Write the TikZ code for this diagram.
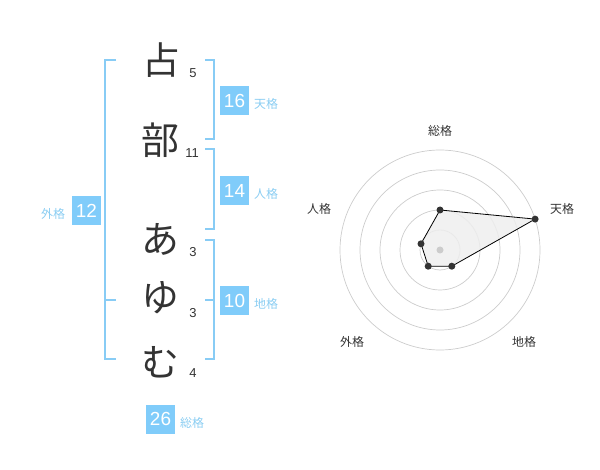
\documentclass[tikz,border=0pt]{standalone}
\usepackage{fontspec}
\setmainfont{Noto Sans CJK JP}
\newfontfamily\numfont{Liberation Sans}
\definecolor{kblue}{HTML}{88CCF5}
\definecolor{kbox}{HTML}{80CCFA}
\definecolor{klabel}{HTML}{8ACDF2}
\definecolor{kdark}{HTML}{333333}
\definecolor{kgrid}{HTML}{CCCCCC}
\definecolor{kfill}{HTML}{EEEEEE}
\begin{document}
\begin{tikzpicture}[x=1bp,y=-1bp,
  kanji/.style={inner sep=0pt,text=kdark,font=\fontsize{38}{38}\selectfont},
  strokes/.style={inner sep=0pt,text=kdark,font=\numfont\fontsize{13}{13}\selectfont},
  bracket/.style={draw=kblue,line width=2bp},
  numbox/.style={fill=kbox,text=white,minimum width=29bp,minimum height=29bp,inner sep=0pt,font=\numfont\fontsize{19}{19}\selectfont},
  boxlabel/.style={inner sep=0pt,text=klabel,font=\fontsize{12}{12}\selectfont},
  axislabel/.style={inner sep=0pt,text=kdark,font=\fontsize{12}{12}\selectfont},
  ring/.style={draw=kgrid,line width=0.7bp},
  dot/.style={circle,fill=kdark,inner sep=0pt,minimum size=7bp}]
\useasboundingbox (0,0) rectangle (600,470);
% characters
\node[kanji] (c1) at (161,60) {占};
\node[kanji] (c2) at (160,140) {部};
\node[kanji] (c3) at (160,239) {あ};
\node[kanji] (c4) at (160,298) {ゆ};
\node[kanji] (c5) at (160,362) {む};
\node[strokes] (s1) at (193,73) {5};
\node[strokes] (s2) at (192,153) {11};
\node[strokes] (s3) at (193,252) {3};
\node[strokes] (s4) at (193,313) {3};
\node[strokes] (s5) at (193,373) {4};
% brackets
\draw[bracket] (116,60) -- (105,60) -- (105,359) -- (116,359);
\draw[bracket] (105,300) -- (116,300);
\draw[bracket] (205,60) -- (214,60) -- (214,139) -- (205,139);
\draw[bracket] (205,149) -- (214,149) -- (214,229) -- (205,229);
\draw[bracket] (205,240) -- (214,240) -- (214,359) -- (205,359);
\draw[bracket] (205,300) -- (214,300);
% boxes
\node[numbox] (b12) at (86.5,210.5) {12};
\node[boxlabel] (l12) at (53,214) {外格};
\node[numbox] (b16) at (234.5,100.5) {16};
\node[boxlabel] (l16) at (266,104) {天格};
\node[numbox] (b14) at (234.5,190.5) {14};
\node[boxlabel] (l14) at (266,194) {人格};
\node[numbox] (b10) at (234.5,300.5) {10};
\node[boxlabel] (l10) at (266,304) {地格};
\node[numbox] (b26) at (160.5,419) {26};
\node[boxlabel] (l26) at (192,423) {総格};
% radar
\coordinate (o) at (440,250);
\foreach \r in {20,40,60,80,100} \draw[ring] (o) circle[radius=\r];
\coordinate (p1) at (440,210);
\coordinate (p2) at (535.1,219.1);
\coordinate (p3) at (451.8,266.2);
\coordinate (p4) at (428.2,266.2);
\coordinate (p5) at (421,243.8);
\filldraw[fill=kfill,fill opacity=0.85,draw=black,line width=0.8bp] (p1) -- (p2) -- (p3) -- (p4) -- (p5) -- cycle;
\fill[kgrid] (o) circle[radius=3.5];
\foreach \p in {p1,p2,p3,p4,p5} \node[dot] at (\p) {};
\node[axislabel] (a1) at (440,131) {総格};
\node[axislabel] (a2) at (562,209) {天格};
\node[axislabel] (a3) at (524,342) {地格};
\node[axislabel] (a4) at (352,342) {外格};
\node[axislabel] (a5) at (319,209) {人格};
\end{tikzpicture}
\end{document}
